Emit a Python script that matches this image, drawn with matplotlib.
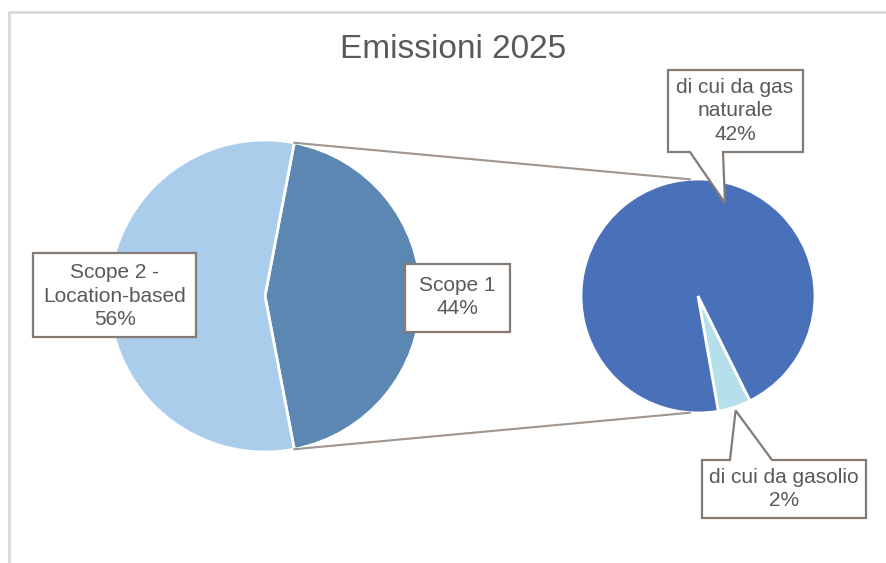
import numpy as np
import matplotlib.pyplot as plt
from matplotlib.patches import Polygon

W, H = 887, 563

titolo = 'Emissioni 2025'

# torta principale
main_labels = ['Scope 1', 'Scope 2 -\nLocation-based']
main_values = [44, 56]
main_colors = ['#5C87B3', '#AACDEC']

# torta secondaria (dettaglio Scope 1)
sub_labels = ['di cui da gasolio', 'di cui da gas\nnaturale']
sub_values = [2, 42]
sub_colors = ['#B5DFEA', '#4971BA']

txt_col = '#595959'
box_col = '#857a74'
line_col = '#a0958f'
plt.rcParams['font.family'] = ['Liberation Sans', 'DejaVu Sans']

fig = plt.figure(figsize=(W / 100, H / 100), dpi=100)
ax = fig.add_axes([0, 0, 1, 1])

def py(y):
    return H - y

c1 = (265, py(296))
r1 = 156
c2 = (698, py(296))
r2 = 117

half = main_values[0] / sum(main_values) * 180
ax.pie(main_values, colors=main_colors, center=c1, radius=r1, startangle=-half,
       wedgeprops=dict(edgecolor='white', linewidth=2))
start2 = -80
ax.pie(sub_values, colors=sub_colors, center=c2, radius=r2, startangle=start2,
       wedgeprops=dict(edgecolor='white', linewidth=2))

# linee di collegamento
for s in [1, -1]:
    a1 = np.deg2rad(s * half)
    a2 = np.deg2rad(s * 94)
    ax.plot([c1[0] + r1 * np.cos(a1), c2[0] + r2 * np.cos(a2)],
            [c1[1] + r1 * np.sin(a1), c2[1] + r2 * np.sin(a2)],
            color=line_col, lw=1.5, zorder=1)

def callout(x0, y0, x1, y1, base=None, tip=None, side='bottom'):
    pts = [(x0, y0), (x1, y0)]
    if base and side == 'top':
        pts = [(x0, y0), (base[0], y0), tip, (base[1], y0), (x1, y0)]
    pts += [(x1, y1)]
    if base and side == 'bottom':
        pts += [(base[1], y1), tip, (base[0], y1)]
    pts += [(x0, y1)]
    pts = [(x, py(y)) for x, y in pts]
    ax.add_patch(Polygon(pts, closed=True, facecolor='white', edgecolor=box_col,
                         lw=1.6, zorder=5))

def label(x, y, t):
    ax.text(x, py(y), t, ha='center', va='center', multialignment='center',
            fontsize=15, color=txt_col, linespacing=1.3, zorder=6)

# etichette torta principale
callout(33, 253, 196, 337)
label(115, 296, f'{main_labels[1]}\n{main_values[1]}%')
callout(405, 264, 510, 332)
label(457, 297, f'{main_labels[0]}\n{main_values[0]}%')

# etichette torta secondaria
callout(668, 70, 803, 152, base=(690, 723), tip=(725, 203), side='bottom')
label(735, 111, f'{sub_labels[1]}\n{sub_values[1]}%')

mid = np.deg2rad(start2 + sub_values[0] / sum(sub_values) * 180)
tip = (c2[0] + 1.03 * r2 * np.cos(mid), H - (c2[1] + 1.03 * r2 * np.sin(mid)))
callout(702, 460, 866, 518, base=(730, 772), tip=tip, side='top')
label(784, 489, f'{sub_labels[0]}\n{sub_values[0]}%')

ax.text(453, py(50), titolo, ha='center', va='center', fontsize=24, color=txt_col)

# cornice
ax.plot([9, 9, W + 5], [-5, py(12), py(12)], color='#d9d9d9', lw=2, zorder=0)

ax.set_xlim(0, W)
ax.set_ylim(0, H)
ax.set_aspect('auto')
ax.axis('off')

fig.savefig('out.png', dpi=100)
